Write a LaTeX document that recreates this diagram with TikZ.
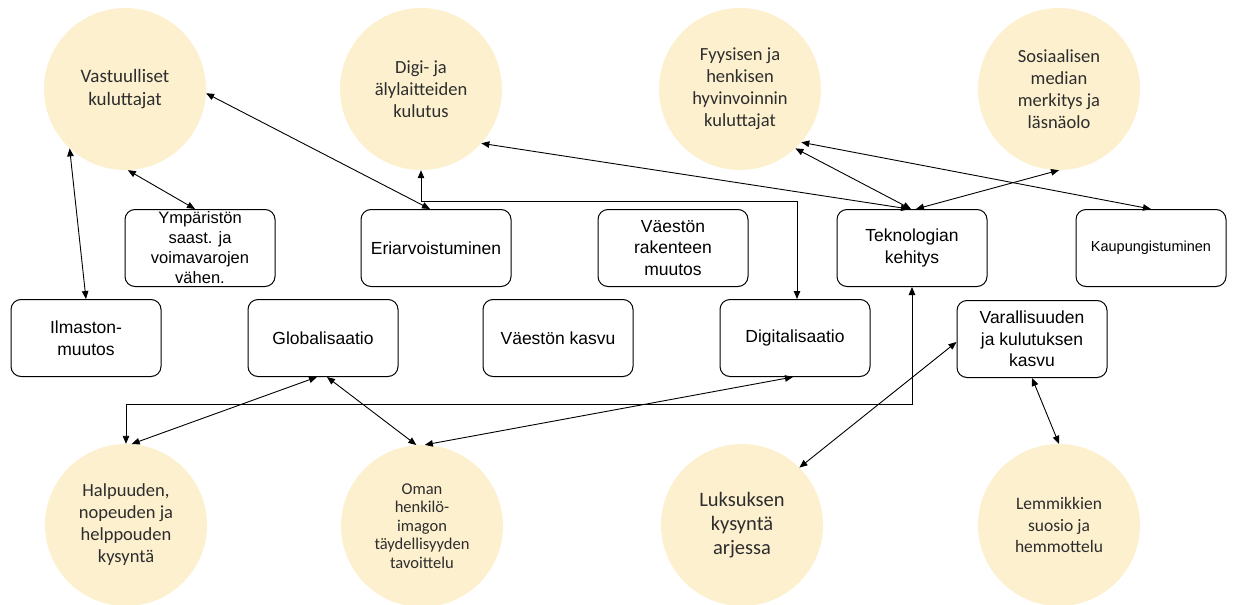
\documentclass[tikz,border=0pt]{standalone}
\usepackage{fontspec}
\usetikzlibrary{arrows.meta}
\newfontfamily\circfont{Carlito}
\newfontfamily\boxfont{Liberation Sans}
\definecolor{trendfill}{RGB}{253,240,207}
\definecolor{trendtext}{RGB}{45,45,45}
\tikzset{trend/.style={circle,fill=trendfill,minimum size=162pt,inner sep=0pt,align=center,
  text=trendtext,font=\circfont\fontsize{18.5}{22}\selectfont},
 driver/.style={draw,line width=1pt,rounded corners=10pt,fill=white,minimum width=150pt,
  minimum height=77pt,inner sep=0pt,align=center,font=\boxfont\fontsize{17.5}{21.5}\selectfont},
 link/.style={<->,>={Triangle[length=8pt,width=6.5pt]},line width=0.9pt}}
\begin{document}
\begin{tikzpicture}[x=1pt,y=-1pt]
\useasboundingbox (0,0) rectangle (1235,605);
% trends (circles)
\node[trend,font=\circfont\fontsize{19}{22.5}\selectfont] (vast) at (125,89) {Vastuulliset\\kuluttajat};
\node[trend] (digi) at (421,89) {Digi- ja\\älylaitteiden\\kulutus};
\node[trend] (fyys) at (740,89) {Fyysisen ja\\henkisen\\hyvinvoinnin\\kuluttajat};
\node[trend] (some) at (1059,89) {Sosiaalisen\\median\\merkitys ja\\läsnäolo};
\node[trend] (halp) at (126,525) {Halpuuden,\\nopeuden ja\\helppouden\\kysyntä};
\node[trend,font=\circfont\fontsize{16.5}{18.5}\selectfont] (oman) at (422,526)
  {Oman\\henkilö-\\imagon\\täydellisyyden\\tavoittelu};
\node[trend,font=\circfont\fontsize{20.5}{24}\selectfont] (luks) at (742,525) {Luksuksen\\kysyntä\\arjessa};
\node[trend,font=\circfont\fontsize{17.5}{21.5}\selectfont] (lemm) at (1059,525) {Lemmikkien\\suosio ja\\hemmottelu};
% drivers (boxes)
\node[driver,font=\boxfont\fontsize{16.5}{20}\selectfont] (ymp) at (200,248)
  {Ympäristön\\saast. ja\\voimavarojen\\vähen.};
\node[driver] (eri) at (436,248) {Eriarvoistuminen};
\node[driver] (vrak) at (673,248) {Väestön\\rakenteen\\muutos};
\node[driver] (tekn) at (912,248) {Teknologian\\kehitys};
\node[driver,font=\boxfont\fontsize{14.5}{18}\selectfont] (kaup) at (1151,248) {Kaupungistuminen};
\node[driver] (ilm) at (86,338) {Ilmaston-\\muutos};
\node[driver] (glob) at (323,338) {Globalisaatio};
\node[driver] (vkas) at (558,338) {Väestön kasvu};
\node[driver] (digit) at (795,338) {Digitalisaatio};
\node[driver] (vara) at (1032,339) {Varallisuuden\\ja kulutuksen\\kasvu};
% links
\draw[link] (vast.227) -- (ilm.north);
\draw[link] (vast.272) -- ([xshift=-5pt]ymp.north);
\draw[link] (vast.357) -- ([xshift=-6pt]eri.north);
\draw[link] (digi.south) -- ++(0,31) -| ([xshift=2pt]digit.north);
\draw[link] (digi.318) -- ([xshift=-3pt]tekn.north);
\draw[link] (fyys.313) -- ([xshift=-1pt]tekn.north);
\draw[link] (fyys.319) -- (kaup.north);
\draw[link] (some.south) -- ([xshift=4pt]tekn.north);
\draw[link] (tekn.south) -- ++(0,117) -| (halp.north);
\draw[link] ([xshift=-6pt]glob.south) -- (halp.86);
\draw[link] ([xshift=4pt]glob.south) -- (oman.94);
\draw[link] ([xshift=-2pt]digit.south) -- (oman.88);
\draw[link] ([yshift=-3pt]vara.west) -- (luks.45);
\draw[link] (vara.south) -- (lemm.north);
\end{tikzpicture}
\end{document}
